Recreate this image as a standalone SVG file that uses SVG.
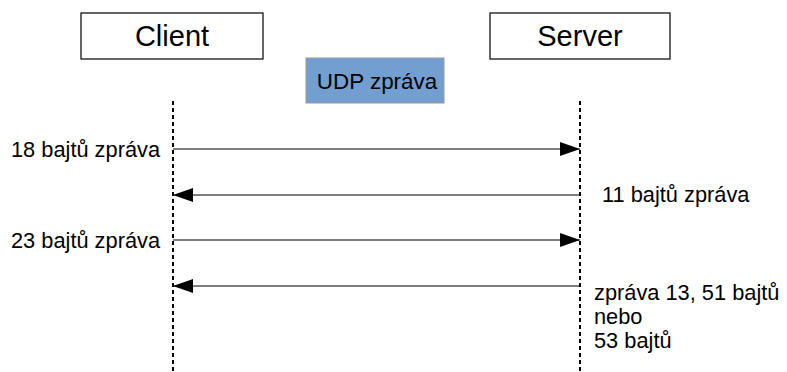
<svg xmlns="http://www.w3.org/2000/svg" width="787" height="372" viewBox="0 0 787 372">
  <style>
    .box { fill: #ffffff; stroke: #000000; stroke-width: 1.2; }
    .udp { fill: #729fcf; stroke: #999999; stroke-width: 1; }
    .life { stroke: #000000; stroke-width: 2; stroke-dasharray: 4 3; fill: none; }
    .msg { stroke: #000000; stroke-width: 1.2; fill: none; }
    text { font-family: "Liberation Sans", Arial, sans-serif; fill: #000000; }
    .title { font-size: 29px; text-anchor: middle; }
    .lbl { font-size: 21.8px; }
  </style>
  <defs>
    <marker id="head" viewBox="0 0 20 14" refX="20" refY="7" markerWidth="20" markerHeight="14" markerUnits="userSpaceOnUse" orient="auto">
      <path d="M0,0 L20,7 L0,14 Z" fill="#000000"/>
    </marker>
  </defs>

  <g id="client">
    <rect class="box" x="81" y="13" width="182" height="46"/>
    <text class="title" x="172" y="46">Client</text>
  </g>
  <g id="server">
    <rect class="box" x="490" y="13" width="180" height="46"/>
    <text class="title" x="580" y="46">Server</text>
  </g>
  <g id="udp">
    <rect class="udp" x="306" y="58" width="138" height="45"/>
    <text x="377" y="89" font-size="22.4" text-anchor="middle">UDP zpráva</text>
  </g>

  <g id="connectors">
    <line class="life" x1="173" y1="101" x2="173" y2="372"/>
    <line class="life" x1="580" y1="101" x2="580" y2="372"/>
    <line class="msg" x1="173" y1="149" x2="580" y2="149" marker-end="url(#head)"/>
    <line class="msg" x1="580" y1="195" x2="173" y2="195" marker-end="url(#head)"/>
    <line class="msg" x1="173" y1="240" x2="580" y2="240" marker-end="url(#head)"/>
    <line class="msg" x1="580" y1="286" x2="173" y2="286" marker-end="url(#head)"/>
  </g>

  <g id="labels">
    <text class="lbl" x="11" y="157">18 bajtů zpráva</text>
    <text class="lbl" x="602" y="202">11 bajtů zpráva</text>
    <text class="lbl" x="11" y="248">23 bajtů zpráva</text>
    <text class="lbl" x="594" y="300">zpráva 13, 51 bajtů</text>
    <text class="lbl" x="594" y="324">nebo</text>
    <text class="lbl" x="594" y="348">53 bajtů</text>
  </g>
</svg>
